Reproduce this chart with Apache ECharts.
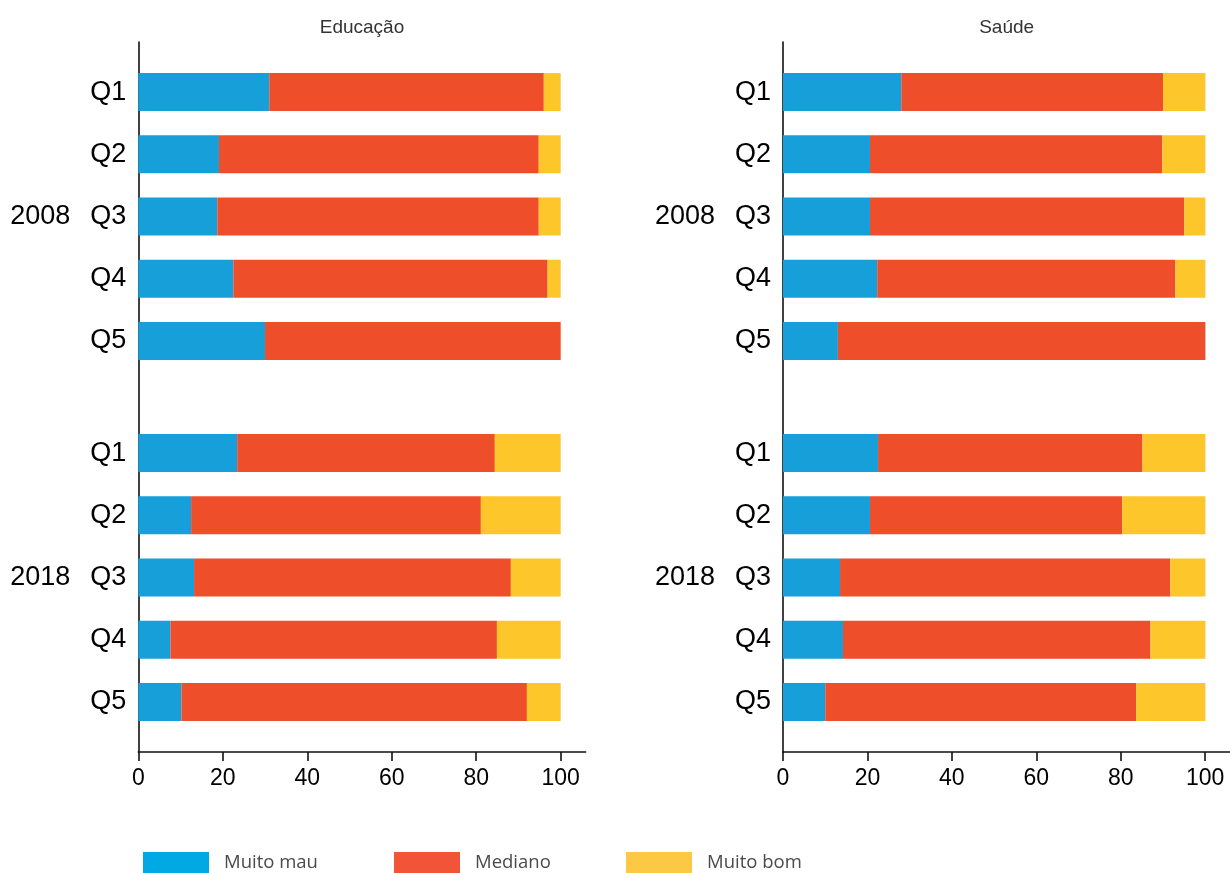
<!DOCTYPE html>
<html>
<head>
<meta charset="utf-8">
<script src="https://cdn.jsdelivr.net/npm/echarts@6/dist/echarts.min.js"></script>
<style>
html,body{margin:0;padding:0;background:#fff;}
#chart{width:1230px;height:873px;}
</style>
</head>
<body>
<div id="chart"></div>
<script>
// ---- Data ----
const quintiles = ['Q1', 'Q2', 'Q3', 'Q4', 'Q5'];
const years = ['2008', '2018'];
const panels = ['Educação', 'Saúde'];
const categoriesNames = ['Muito mau', 'Mediano', 'Muito bom'];
const xTicks = [0, 20, 40, 60, 80, 100];

// Educação
const eduMuitoMau2008 = [31.0, 19.1, 18.7, 22.5, 30.0];
const eduMediano2008  = [65.0, 75.7, 76.1, 74.4, 70.0];
const eduMuitoBom2008 = [4.0, 5.2, 5.2, 3.1, 0];
const eduMuitoMau2018 = [23.4, 12.5, 13.2, 7.6, 10.2];
const eduMediano2018  = [61.0, 68.6, 75.0, 77.3, 81.8];
const eduMuitoBom2018 = [15.6, 18.9, 11.8, 15.1, 8.0];

// Saúde
const sauMuitoMau2008 = [28.0, 20.6, 20.6, 22.3, 13.0];
const sauMediano2008  = [62.0, 69.2, 74.4, 70.6, 87.0];
const sauMuitoBom2008 = [10.0, 10.2, 5.0, 7.1, 0];
const sauMuitoMau2018 = [22.5, 20.6, 13.5, 14.2, 10.0];
const sauMediano2018  = [62.6, 59.7, 78.2, 72.8, 73.6];
const sauMuitoBom2018 = [14.9, 19.7, 8.3, 13.0, 16.4];

// ---- Styles ----
const barColors = ['#179fd9', '#ef4e2b', '#fdc62a'];
const legendColors = ['#00a8e4', '#f15437', '#fdc843'];
const fontMain = '"Liberation Sans", Arial, Helvetica, sans-serif';

const panelData = [
  [[eduMuitoMau2008, eduMediano2008, eduMuitoBom2008], [eduMuitoMau2018, eduMediano2018, eduMuitoBom2018]],
  [[sauMuitoMau2008, sauMediano2008, sauMuitoBom2008], [sauMuitoMau2018, sauMediano2018, sauMuitoBom2018]]
];

const panelLeft = [138.3, 783];
const plotW = 422.4;       // width of 0..100
const frameMax = 105.9;    // axis line extends beyond 100
const frameTop = 42, frameBottomY = 752;
const groupTop = [61, 422];
const groupH = 311;

const grid = [], xAxis = [], yAxis = [], series = [], title = [];

panels.forEach((pname, p) => {
  const left = panelLeft[p];
  // frame grid
  const fIdx = grid.length;
  grid.push({left: left, top: frameTop, width: plotW * frameMax / 100, height: frameBottomY - frameTop});
  xAxis.push({
    type: 'value', gridIndex: fIdx, min: 0, max: frameMax,
    axisLine: {show: true, lineStyle: {color: '#111', width: 1.6}},
    axisTick: {show: true, customValues: xTicks, length: 9, lineStyle: {color: '#111', width: 1.6}},
    axisLabel: {customValues: xTicks, fontSize: 23, color: '#000', fontFamily: fontMain, margin: 15},
    splitLine: {show: false}
  });
  yAxis.push({
    type: 'value', gridIndex: fIdx, min: 0, max: 1,
    axisLine: {show: true, lineStyle: {color: '#111', width: 1.6}},
    axisTick: {show: false}, axisLabel: {show: false}, splitLine: {show: false}
  });
  title.push({
    text: pname, left: left + plotW * frameMax / 200, top: 18, textAlign: 'center', padding: 0,
    textStyle: {fontFamily: fontMain, fontSize: 19, fontWeight: 'normal', color: '#333'}
  });

  years.forEach((yr, g) => {
    const gIdx = grid.length;
    grid.push({left: left, top: groupTop[g], width: plotW, height: groupH});
    const xIdx = xAxis.length;
    xAxis.push({type: 'value', gridIndex: gIdx, min: 0, max: 100, show: false});
    const yIdx = yAxis.length;
    yAxis.push({
      type: 'category', gridIndex: gIdx, data: quintiles, inverse: true,
      axisLine: {show: false}, axisTick: {show: false},
      axisLabel: {fontSize: 27, color: '#000', fontFamily: fontMain, margin: 12}
    });
    yAxis.push({
      type: 'category', gridIndex: gIdx, data: quintiles, inverse: true, position: 'left',
      axisLine: {show: false}, axisTick: {show: false},
      axisLabel: {fontSize: 27, color: '#000', fontFamily: fontMain, margin: 68,
        interval: 0, formatter: (v, i) => (i === 2 ? yr : '')}
    });
    categoriesNames.forEach((cname, c) => {
      series.push({
        type: 'bar', name: cname, stack: 'p' + p + 'g' + g,
        xAxisIndex: xIdx, yAxisIndex: yIdx,
        data: panelData[p][g][c], barWidth: 38,
        itemStyle: {color: barColors[c]},
        emphasis: {disabled: true}, silent: true
      });
    });
  });
});

const legendLefts = [143, 394, 626];
const legend = categoriesNames.map((n, i) => ({
  left: legendLefts[i], top: 852, orient: 'horizontal', padding: 0,
  itemWidth: 66, itemHeight: 22, icon: 'rect', selectedMode: false,
  data: [{name: n, itemStyle: {color: legendColors[i]}}],
  textStyle: {fontFamily: '"Open Sans", sans-serif', fontSize: 18.5, color: '#4a4a4a', padding: [0, 0, 0, 10]}
}));

const chart = echarts.init(document.getElementById('chart'), null, {renderer: 'canvas'});
chart.setOption({
  animation: false,
  backgroundColor: '#fff',
  title, grid, xAxis, yAxis, series, legend
});
</script>
</body>
</html>
